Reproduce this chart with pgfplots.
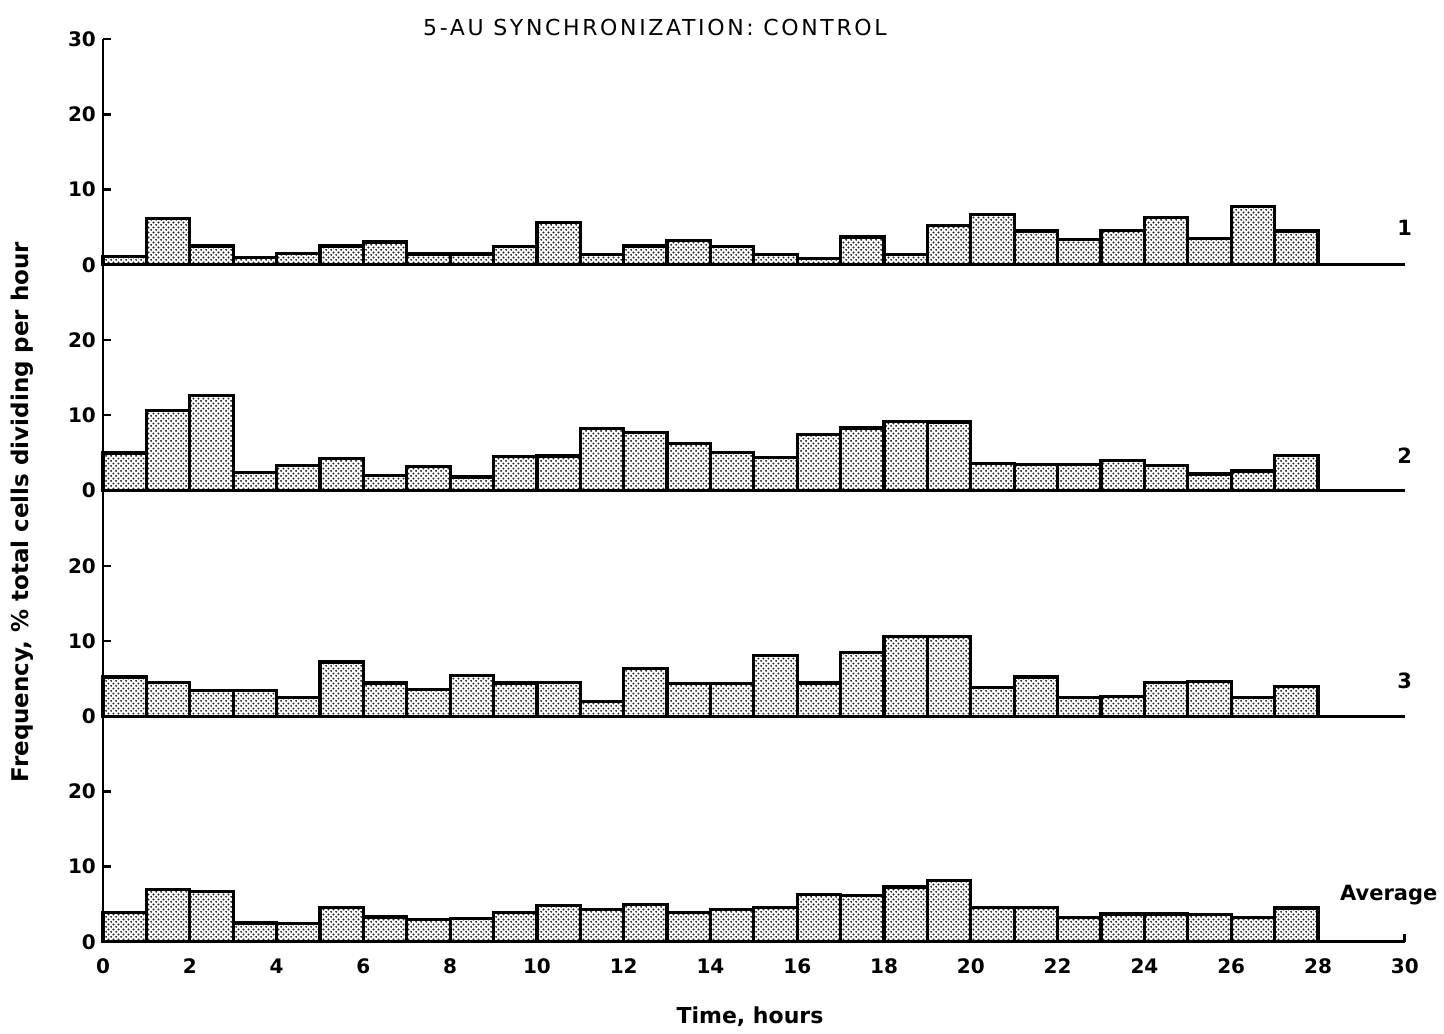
\documentclass[border=0pt]{standalone}
\usepackage{fontspec}
\setmainfont{DejaVu Sans}
\usepackage{pgfplots}
\pgfplotsset{compat=1.18}
\usepackage{pgfplotstable}
\usepgfplotslibrary{groupplots}
\usetikzlibrary{patterns.meta}
\pgfdeclarepattern{name=stip, type=uncolored,
  bottom left={\pgfpoint{0pt}{0pt}}, top right={\pgfpoint{2.4pt}{2.4pt}},
  tile size={\pgfpoint{2.4pt}{2.4pt}},
  code={\pgfpathcircle{\pgfpoint{0.6pt}{0.6pt}}{0.55pt}\pgfpathcircle{\pgfpoint{1.8pt}{1.8pt}}{0.55pt}\pgfusepath{fill}}}

\pgfplotstableread{
x a b c d
0 1.1 5.0 5.2 3.95
1 6.15 10.6 4.5 7.0
2 2.5 12.6 3.45 6.7
3 1.0 2.4 3.4 2.5
4 1.55 3.3 2.5 2.4
5 2.5 4.3 7.2 4.6
6 3.05 2.0 4.4 3.3
7 1.45 3.2 3.6 3.0
8 1.45 1.8 5.4 3.15
9 2.4 4.5 4.4 3.9
10 5.6 4.6 4.5 4.8
11 1.4 8.2 1.9 4.25
12 2.5 7.7 6.3 5.0
13 3.2 6.3 4.3 3.95
14 2.45 5.1 4.3 4.35
15 1.4 4.4 8.1 4.6
16 0.8 7.5 4.4 6.3
17 3.7 8.3 8.5 6.2
18 1.4 9.2 10.6 7.3
19 5.2 9.1 10.6 8.2
20 6.7 3.6 3.8 4.6
21 4.5 3.5 5.2 4.6
22 3.4 3.5 2.5 3.2
23 4.6 4.0 2.6 3.7
24 6.3 3.3 4.5 3.7
25 3.5 2.2 4.6 3.6
26 7.8 2.6 2.5 3.2
27 4.5 4.7 3.9 4.5
28 4.5 4.7 3.9 4.5
}\datatable

\pgfplotsset{
  barsty/.style={ybar interval, draw=black, line width=1.6pt, fill=white,
    postaction={pattern={stip}, pattern color=black!85}},
}

\begin{document}
\begin{tikzpicture}
\begin{groupplot}[
  group style={group size=1 by 4, vertical sep=0pt},
  width=651pt, height=112.85pt, scale only axis,
  xmin=0, xmax=30, ymin=0, ymax=30,
  axis x line*=bottom, axis y line*=left,
  axis line style={line width=1.4pt, -},
  xtick=\empty, ytick={0,10,20},
  y tick style={line width=1.2pt, black},
  tick align=inside, major tick length=4pt,
  ticklabel style={font=\bfseries\fontsize{10}{12}\selectfont},
  /pgf/number format/assume math mode=true,
  clip=false,
]
\nextgroupplot[ytick={0,10,20,30}]
\addplot[barsty] table[x=x,y=a]{\datatable};
\node[font=\bfseries\fontsize{10.5}{12}\selectfont] at (axis cs:30,4.9) {1};

\nextgroupplot
\addplot[barsty] table[x=x,y=b]{\datatable};
\node[font=\bfseries\fontsize{10.5}{12}\selectfont] at (axis cs:30,4.6) {2};

\nextgroupplot
\addplot[barsty] table[x=x,y=c]{\datatable};
\node[font=\bfseries\fontsize{10.5}{12}\selectfont] at (axis cs:30,4.7) {3};

\nextgroupplot[xtick={0,2,...,30}, x tick style={draw=none},
  xticklabel style={yshift=-5pt}]
\addplot[barsty] table[x=x,y=d]{\datatable};
\draw[line width=1.4pt] (axis cs:30,0) -- (axis cs:30,1.1);
\node[font=\bfseries\fontsize{10.5}{12}\selectfont] at (axis cs:29.63,6.2) {Average};
\node[font=\bfseries\fontsize{11}{13}\selectfont] at (rel axis cs:0.497,-0.332) {Time, hours};
\node[rotate=90, font=\bfseries\fontsize{11.5}{13}\selectfont] at (rel axis cs:-0.0622,1.905) {Frequency, \% total cells dividing per hour};
\node[font=\fontsize{11}{12}\selectfont\addfontfeatures{LetterSpace=12}] at (rel axis cs:0.424,4.054) {5-AU SYNCHRONIZATION: CONTROL};
\path (rel axis cs:-0.0791,-0.3943) rectangle (rel axis cs:1.02995,4.1737);
\end{groupplot}
\end{tikzpicture}
\end{document}
